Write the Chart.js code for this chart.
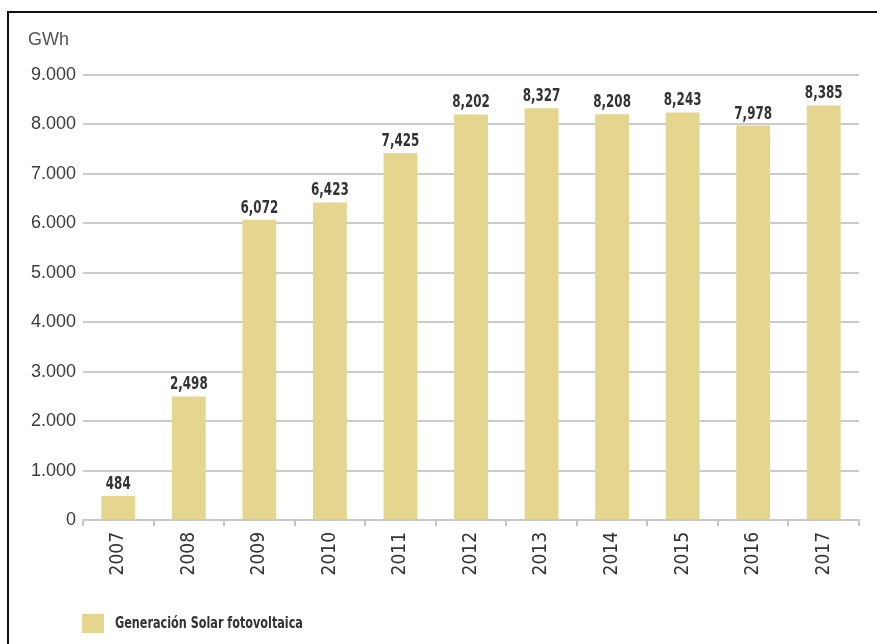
<!DOCTYPE html>
<html lang="es">
  <head>
    <meta charset="utf-8" />
    <title>Generación Solar fotovoltaica</title>
    <style>
      * { margin: 0; padding: 0; }
      body { background: #fff; width: 877px; height: 644px; overflow: hidden; }
      .chartBox { position: absolute; left: 0; top: 0; width: 877px; height: 644px; }
    </style>
  </head>
  <body>
    <div class="chartBox">
      <canvas id="myChart" width="877" height="644"></canvas>
    </div>

    <script src="https://cdn.jsdelivr.net/npm/chart.js"></script>

    <script>
      const years = ["2007", "2008", "2009", "2010", "2011", "2012", "2013", "2014", "2015", "2016", "2017"];
      const solarGWh = [484, 2498, 6072, 6423, 7425, 8202, 8327, 8208, 8243, 7978, 8385];
      const yTicks = [0, 1000, 2000, 3000, 4000, 5000, 6000, 7000, 8000, 9000];
      const seriesName = "Generación Solar fotovoltaica";
      const unitLabel = "GWh";

      const narrow = "'DejaVu Sans Condensed', 'Liberation Sans', sans-serif";
      const barColor = "#e5d68f";

      // condensed text: squeeze horizontally around the anchor point
      function squeezedText(ctx, text, x, y, sx) {
        ctx.save();
        ctx.translate(x, y);
        ctx.scale(sx, 1);
        ctx.fillText(text, 0, 0);
        ctx.restore();
      }

      // frame, unit label, value labels and legend
      const extras = {
        id: "extras",
        beforeDraw(chart) {
          const { ctx } = chart;
          ctx.save();
          ctx.fillStyle = "#fff";
          ctx.fillRect(0, 0, chart.width, chart.height);
          ctx.strokeStyle = "#111";
          ctx.lineWidth = 2;
          ctx.beginPath();
          ctx.moveTo(8, 644);
          ctx.lineTo(8, 12);
          ctx.lineTo(877, 12);
          ctx.stroke();
          ctx.restore();
        },
        afterDatasetsDraw(chart) {
          const { ctx } = chart;
          const meta = chart.getDatasetMeta(0);
          ctx.save();
          ctx.font = "bold 17px " + narrow;
          ctx.fillStyle = "#333";
          ctx.textAlign = "center";
          ctx.textBaseline = "alphabetic";
          meta.data.forEach((bar, i) => {
            const v = solarGWh[i].toLocaleString("en-US");
            squeezedText(ctx, v, bar.x, bar.y - 7, 0.78);
          });

          ctx.font = "18px 'Liberation Sans', Arial, sans-serif";
          ctx.fillStyle = "#555";
          ctx.textAlign = "left";
          ctx.fillText(unitLabel, 28, 45);

          // legend
          ctx.fillStyle = chart.data.datasets[0].backgroundColor;
          ctx.fillRect(82, 614, 22, 19);
          ctx.font = "bold 16px " + narrow;
          ctx.fillStyle = "#333";
          ctx.textBaseline = "middle";
          squeezedText(ctx, chart.data.datasets[0].label, 115, 624, 0.78);
          ctx.restore();
        },
      };

      const config = {
        type: "bar",
        data: {
          labels: years,
          datasets: [
            {
              label: seriesName,
              data: solarGWh,
              backgroundColor: barColor,
              borderWidth: 0,
              barPercentage: 0.48,
              categoryPercentage: 1,
            },
          ],
        },
        options: {
          responsive: false,
          animation: false,
          layout: { padding: { left: 0, top: 75, right: 18, bottom: 0 } },
          plugins: {
            legend: { display: false },
            tooltip: { enabled: false },
          },
          scales: {
            x: {
              offset: true,
              afterFit: (scale) => { scale.height = 124; },
              grid: {
                drawOnChartArea: false,
                offset: true,
                tickLength: 6,
                color: "#c4c4c4",
                lineWidth: 2,
              },
              border: { color: "#c8c8c8", width: 2 },
              ticks: {
                minRotation: 90,
                maxRotation: 90,
                padding: 6,
                color: "#333",
                font: { family: narrow, size: 19 },
              },
            },
            y: {
              min: 0,
              max: 9000,
              afterFit: (scale) => { scale.width = 83; },
              afterBuildTicks: (scale) => {
                scale.ticks = yTicks.map((v) => ({ value: v }));
              },
              grid: {
                color: "#cbcbcb",
                lineWidth: 2,
                drawTicks: false,
              },
              border: { display: false },
              ticks: {
                padding: 7,
                color: "#3c3c3c",
                font: { family: "'Liberation Sans', Arial, sans-serif", size: 18 },
                callback: (v) => v.toLocaleString("de-DE"),
              },
            },
          },
        },
        plugins: [extras],
      };

      const myChart = new Chart(document.getElementById("myChart"), config);
    </script>
  </body>
</html>
